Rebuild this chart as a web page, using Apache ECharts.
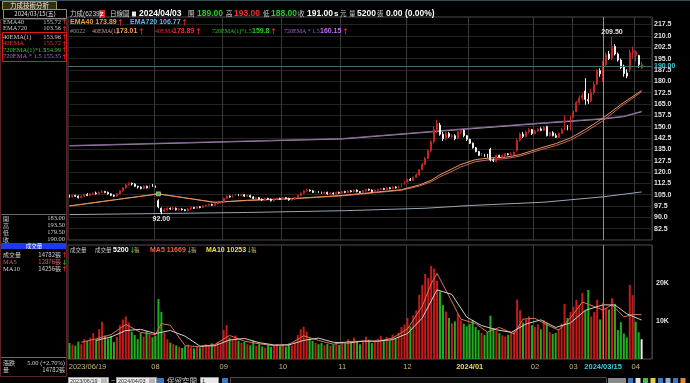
<!DOCTYPE html>
<html><head><meta charset="utf-8">
<script src="https://cdn.jsdelivr.net/npm/echarts/dist/echarts.min.js"></script>
<style>html,body{margin:0;padding:0;background:#000;overflow:hidden}#c{width:690px;height:383px}</style>
</head><body><div id="c"></div>
<script>
// ---------- DATA ----------
const holidays = ['2023-06-22','2023-06-23','2023-09-29','2023-10-09','2023-10-10','2024-01-01',
  '2024-02-06','2024-02-07','2024-02-08','2024-02-09','2024-02-12','2024-02-13','2024-02-14','2024-02-28'];
// candles: [open, close, low, high]
const candles = [
[104,103.5,103,105],[103.5,104.5,103,105],[104.5,104,103.5,105],[104,103,102.5,104.5],[103,104,102.5,104.5],[104,105,103.5,105.5],[105,104.5,104,106],[104.5,105.5,104,106],
[105.5,106,105,106.5],[106,105.5,105,107],[105.5,106.5,105,107],[106.5,107,106,108],[107,106.5,106,107.5],[106.5,105.5,105,107],[105.5,104.5,104,106],[104.5,104,103.5,105],[104,105.5,103.5,106],[105.5,107.5,105,108],[107.5,109.5,107,110],[109.5,111.5,109,112],[111.5,112.5,111,113],[112.5,112,111,113],[112,110.5,110,112.5],[110.5,110,109,111],[110,109,108.5,110.5],[109,110.5,108.5,111],[110.5,109.5,109,111],[109.5,111,109,111.5],[111,110.5,110,112],
[110.5,110,109.5,111],[101,97,96,102],[96,93.5,92,96.5],[94,95,93.5,96],[95,96,94.5,96.5],[96,95.5,95,96.5],[95.5,96,95,97],[96,95,94.5,96.5],[95,95.5,94.5,96],[95.5,95,94.5,96],[95,94.5,94,95.5],[94.5,95.5,94,96],[95.5,96.5,95,97],[96.5,96,95.5,97],[96,97,95.5,97.5],[97,96.5,96,97.5],[96.5,97.5,96,98],[97.5,98,97,98.5],[98,98.5,97.5,99],[98.5,98,97.5,99],[98,99,97.5,99.5],[99,99.5,98.5,100],[99.5,100,99,100.5],
[100.5,102.5,100,103],[102.5,104,102,104.5],[104,103.5,103,104.5],[103.5,104.5,103,105],[104.5,105,104,105.5],[105,104.5,104,105.5],[104.5,105,104,105.5],[105,104,103.5,105.5],[104,104.5,103.5,105],[104.5,103.5,103,105],[103.5,102.5,102,104],[102.5,103,102,103.5],[103,102,101.5,103.5],[102,101.5,101,102.5],[101.5,102.5,101,103],[102.5,102,101.5,103],[102,101,100.5,102.5],[101,102,100.5,102.5],[102,102.5,101.5,103],[102.5,102,101.5,103],
[102,103,101.5,103.5],[103,102.5,102,103.5],[102.5,101.5,101,103],[101.5,102,101,102.5],[102,103,101.5,103.5],[103,104.5,102.5,105],[104.5,106,104,106.5],[106,107.5,105.5,108],[107.5,108,107,109],[108,107.5,107,108.5],[107.5,106.5,106,108],[106.5,107,106,107.5],[107,106.5,106,107.5],[106.5,106,105.5,107],[106,106.5,105.5,107],[106.5,105.5,105,107],[105.5,106,105,106.5],[106,105.5,105,106.5],[105.5,106.5,105,107],[106.5,106,105.5,107],
[106,107,105.5,107.5],[107,106.5,106,107.5],[106.5,107.5,106,108],[107.5,107,106.5,108],[107,108,106.5,108.5],[108,107,106.5,108.5],[107,106.5,106,107.5],[106.5,107.5,106,108],[107.5,108.5,107,109],[108.5,108,107.5,109],[108,107,106.5,108.5],[107,108,106.5,108.5],[108,108.5,107.5,109],[108.5,109,108,109.5],[109,108.5,108,109.5],[108.5,109.5,108,110],[109.5,109,108.5,110],[109,110,108.5,110.5],[110,109.5,109,110.5],[109.5,110.5,109,111],[110.5,112,110,112.5],[112,113.5,111.5,114],
[113.5,115,113,115.5],[115,114.5,114,116],[114.5,116.5,114,117],[116.5,118,116,119],[118,121.5,117.5,122],[121.5,125,121,126],[125,129,124.5,130],[129,134,128.5,135],[134,140,133,141],[140,148,139,150],[148,152,146,154.5],[151,145,144,152.5],[145,142,140.5,146.5],[142,145.5,141,146.5],[145.5,143.5,142.5,146.5],[143.5,144,142.5,145],[144,142,141,145],[142,146.5,141.5,147.5],[146.5,147.5,145,148],[147.5,144,143,148],[144,141.5,140.5,144.5],
[141.5,139,138.5,142],[139,136,135.5,139.5],[136,133.5,133,136.5],[133.5,131,130.5,134],[131,131.5,130.5,132.5],[131.5,130.5,130,132],[130.5,130,129.5,132],[135,128,127,136],[128,127.5,126.5,129],[127,131,126.5,131.5],[131,130,129.5,131.5],[130,131,129.5,131.5],[130,132,129.5,132.5],[132,131.5,131,132.5],[131.5,132,131,133],[131.5,133,131,133.5],[134,141,133.5,142],[141,145,140,146],[145,143.5,142.5,146.5],[143.5,146.5,143,147.5],[146.5,148,145.5,149],[148,145.5,144.5,148.5],
[145.5,147,145,148],[147,148.5,146.5,149],[148.5,147.5,147,149.5],[147.5,149.5,147,150.5],[150,144,143.5,150.5],[144,146,143.5,146.5],[146,144,143.5,147],[144,143,142.5,145.5],[143,145.5,142.5,146],[145.5,148,145,149],[148,150,147.5,157.5],[150,148,147.5,151],[148,156,147.5,157],
[156,159,155.5,160.5],[160,166,159.5,167],[166,169,164.5,170.5],[169,170.5,167.5,172],[173.5,168,164.5,182],[168,167,165,172],[167,172.5,166,175],[172.5,178,171,179.5],[178,187,177.5,188],[187,185,183,188.5],[183,190,179.5,193.5],[191,197.5,190,199],[198,195,194,200],[195,203,194,209.5],[203,198,197,204.5],[198,194,193,199],[194,189,188,195],[190,185,183,191],[185.5,183.5,182,188],[188,199,186,201],[199,200,195,203],
[197,199.5,193,200.5],[197,191,189,197.5],[189,191,188,193]
];
const volumes = [
4200,3800,3500,4600,3900,5200,4800,5600,
6800,5200,7900,9800,6200,5400,6100,4500,5800,8900,10400,11200,9600,7200,6300,5200,6800,5900,7400,6500,5700,
6100,15800,12400,6900,5200,4300,3900,3600,3200,2900,3400,3800,3100,2800,3300,3000,3600,3900,3400,4100,3800,4500,4200,
7600,8900,5600,5100,6200,4800,4300,4500,3900,3600,4800,3500,3900,3300,3000,3700,3200,3500,3900,3400,
3800,3300,4100,3600,4400,6300,7800,8500,7200,5500,4800,4300,3900,4200,3600,4000,3500,3800,4300,3700,
4600,4100,5200,4400,5600,4700,3900,4500,5900,5100,4200,4800,5300,6100,5000,5800,4900,6400,5600,6900,8400,9100,
10800,8600,11500,12800,16900,19500,22400,21300,24500,23800,20600,17800,14200,12500,10800,9400,9900,11800,10200,9300,8600,
9200,10300,8400,7600,6900,6300,7100,11400,8200,7400,6800,6200,5900,6400,6800,7300,15600,12800,9600,10400,11200,8900,
8400,9100,7800,10200,9400,7100,6600,6900,7800,9300,14500,10800,12400,
13800,15600,14200,17400,12800,18178,11200,12400,15600,10400,14782,13400,13000,16000,14500,7600,9700,6700,5685,19500,16800,
9800,7045,5200
];
// lines read at sampled trading-day indices: [dayIndex, value]
const ema40 = [[0,97.5],[30,105.5],[49,99.9],[60,101.3],[75,102.4],[92,104.5],[112,108.3],[118,111.4],[122,114.5],[125,118.2],[129,122],[132,124.9],[137,128.2],[142,129.3],[147,129.7],[152,131.5],[159,135.9],[164,138.7],[169,142.5],[174,148],[180,155.72],[186,164.6],[193,173.89]];
const ema40b = [[0,97.5],[30,105.5],[49,99.9],[60,101.1],[75,102.2],[92,104.2],[112,107.9],[118,110.7],[122,113.5],[125,116.8],[129,120.4],[132,123.3],[137,126.8],[142,128.2],[147,128.8],[152,130.5],[159,134.7],[164,137.4],[169,141],[174,146.4],[180,153.96],[186,163.3],[193,173.01]];
const ema720 = [[0,91.8],[60,93.2],[93,94.4],[120,96],[135,97.8],[160,100],[180,103.56],[193,106.77]];
const ema720x = [[0,137.5],[92,142.1],[135,148.9],[160,152.6],[180,155.35],[187,156.9],[193,160.15]];
const ema720xb = [[0,137.2],[92,141.8],[135,148.5],[160,152.2],[180,154.99],[187,156.6],[193,159.8]];
const volMa5 = [[4,4400],[9,5300],[14,6400],[19,9100],[24,7000],[29,6400],[31,9300],[34,8900],[39,3500],[44,3200],[49,3800],[54,6200],[59,4700],[64,4000],[69,3500],[74,3800],[79,6100],[84,4900],[89,3900],[94,4600],[99,4700],[104,4700],[109,5500],[114,7900],[119,13900],[122,19800],[124,22500],[128,16600],[132,10500],[137,9300],[141,7100],[145,8300],[150,6600],[153,10500],[157,10700],[161,9000],[165,7600],[169,10800],[173,15000],[177,13800],[180,12876],[183,14300],[187,11100],[190,11700],[193,11669]];
const volMa10 = [[9,4900],[14,5800],[19,7500],[24,7800],[29,6700],[34,7500],[39,6000],[44,3400],[49,3500],[54,5000],[59,5400],[64,4300],[69,3700],[74,3700],[79,4900],[84,5500],[89,4400],[94,4200],[99,4700],[104,4700],[109,5100],[114,6700],[119,10800],[124,18200],[129,17000],[134,11000],[139,8800],[144,7700],[149,7000],[154,9200],[159,10300],[164,8300],[169,9500],[174,12800],[180,14256],[184,14200],[188,11900],[193,10253]];
const priceTicks = {min:75, max:222.5, step:7.5};
const volTicks = {min:0, max:30000, step:10000};
const cursorIdx = 180, cursorClose = 190;
const exDivIdx = 30, exDivPrice = 105.5;
const hiddenMonth = '07';

// ---------- BUILD ----------
function buildDates(){
  const out=[]; let t=Date.UTC(2023,5,19); const end=Date.UTC(2024,3,3);
  while(t<=end){ const d=new Date(t); const wd=d.getUTCDay(); const s=d.toISOString().slice(0,10);
    if(wd!==0&&wd!==6&&holidays.indexOf(s)<0) out.push(s.replace(/-/g,'/')); t+=86400000; }
  return out;
}
const dates = buildDates();
const cats = dates.concat([' ','  ','   ']);
const N = dates.length;
function isMonthStart(i){ return i>0 && i<N && dates[i].slice(0,7)!==dates[i-1].slice(0,7) && dates[i].slice(5,7)!==hiddenMonth; }
const CJK = "'Noto Sans CJK TC','Noto Sans CJK SC',sans-serif";
const NUM = "'Liberation Sans',Arial,sans-serif";
const SER = "'Liberation Serif','DejaVu Serif',serif";

const volData = volumes.map((v,i)=>{
  const prev = i>0 ? candles[i-1][1] : candles[i][0];
  const c = candles[i][1];
  const col = c>prev ? '#c81a1a' : (c<prev ? '#1fb01f' : '#e8e8e8');
  return {value:v, itemStyle:{color:col}};
});

function line(name, pts, color, xi, yi, z){
  return {name, type:'line', xAxisIndex:xi, yAxisIndex:yi, data:pts, symbol:'none', silent:true, z:z||2,
    lineStyle:{color, width:1}, animation:false};
}

// ---------- GRAPHICS ----------
const G=[];
function T(x,y,text,fill,size,weight,align,family){
  G.push({type:'text', x, y, silent:true, z:100, style:{text, fill, font:(weight||'normal')+' '+(size||6)+'px '+(family||CJK), align:align||'left', verticalAlign:'middle'}});
}
function R(x,y,w,h,fill,stroke){ G.push({type:'rect', silent:true, z:90, shape:{x,y,width:w,height:h}, style:{fill:fill||'none', stroke:stroke||'none', lineWidth:1}}); }
function L(x1,y1,x2,y2,stroke){ G.push({type:'line', silent:true, z:90, shape:{x1,y1,x2,y2}, style:{stroke, lineWidth:1}}); }
const RED='#ff2a2a', GRN='#22d022';
// window top strip / tab
L(0,0.5,690,0.5,'#2f4f4f');
R(2.5,1.5,54,8,'#30301a','#a09a48');
T(29.5,5.6,'力成技術分析','#f4eec4',6.5,'normal','center');
R(3.5,9.5,63,9,'#000','#8a8a8a');
T(35,14,'2024/03/15(五)','#e6e6e6',6,'normal','center');
// header row
T(70,14,'力成','#d8d8d8',6.5); T(83,14,'(6239)','#d8d8d8',6.5,'normal','left',NUM);
R(99,10,6,8,'#d81e1e'); T(102,14,'Z','#ffffff',5.5,'bold','center',NUM);
T(110,14,'日線圖','#d8d8d8',6.5);
R(132,11.5,4,5,'#e8e8e8');
T(139,14,'2024/04/03','#ffffff',8.5,'bold','left',NUM);
T(188,14,'開','#d0d0d0',6.5); T(197,14,'189.00',GRN,8.5,'bold','left',NUM);
T(226,14,'高','#d0d0d0',6.5); T(234,14,'193.00',RED,8.5,'bold','left',NUM);
T(263,14,'低','#d0d0d0',6.5); T(271,14,'188.00',GRN,8.5,'bold','left',NUM);
T(298,14,'收','#d0d0d0',6.5); T(307,14,'191.00','#ffffff',8.5,'bold','left',NUM);
T(334,14,'s','#ffffff',8,'bold','left',NUM); T(340,14,'元','#d0d0d0',6.5);
T(349,14,'量','#d0d0d0',6.5); T(357,14,'5200','#ffffff',8.5,'bold','left',NUM);
T(377,14,'張','#d0d0d0',6.5); T(386,14,'0.00 (0.00%)','#ffffff',8.5,'bold','left',NUM);
// legend rows inside main plot
T(70,22,'EMA40 173.89','#f0a040',7,'bold','left',NUM); T(117,22,'↑',RED,7,'bold');
T(130,22,'EMA720 106.77','#5ab8f0',7,'bold','left',NUM); T(181,22,'↑',RED,7,'bold');
T(70,31,'#0022','#8a8a8a',5.5,'normal','left',NUM);
T(92,31,'40EMA(1)','#c89a9a',6,'normal','left',SER); T(116,31,'173.01','#f0a050',7,'bold','left',NUM); T(138,31,'↑',RED,7,'bold');
T(155,31,'40EMA','#f03030',6,'normal','left',SER); T(173,31,'173.89',RED,7,'bold','left',NUM); T(195,31,'↑',RED,7,'bold');
T(212,31,'720EMA(1)*1.5','#30c030',6,'normal','left',SER); T(252,31,'159.8',GRN,7,'bold','left',NUM); T(270,31,'↑',RED,7,'bold');
T(284,31,'720EMA * 1.5','#a060d0',6,'normal','left',SER); T(320,31,'160.15','#c070f0',7,'bold','left',NUM); T(342,31,'↑',RED,7,'bold');
// left panel
R(0.5,19.5,66,357,'none','#5a2626');
function leftRow(y,label,lc,val,vc,arrow,ac){
  T(3,y,label,lc,6.5,'normal','left',SER); T(61,y,val,vc,6.5,'normal','right',SER);
  if(arrow) T(64.5,y,arrow,ac,6,'bold','center');
}
leftRow(22,'EMA40','#c4c4c4','155.72','#c4c4c4','↑',RED);
leftRow(28.5,'EMA720','#c4c4c4','103.56','#c4c4c4','↑',RED);
R(2.5,32.5,64,29,'none','#e01818');
leftRow(37,'40EMA(1)','#d4c8c8','153.96','#c4c4c4','↑',RED);
leftRow(43.5,'40EMA','#e83030','155.72','#e83030','↑',RED);
leftRow(50,'720EMA(1)*1.5','#40c040','154.99','#40c040','↑',RED);
leftRow(56.5,'720EMA * 1.5','#b060e0','155.35','#b060e0','↑',RED);
L(1,214.5,66,214.5,'#6a6a6a');
[['開','183.00',218.5],['高','193.50',225.5],['低','179.50',232.5],['收','190.00',239.5]].forEach(r=>{
  T(3,r[2],r[0],'#d0d0d0',6); T(65,r[2],r[1],'#d0d0d0',6.5,'normal','right',SER);
});
R(1,243,65,6,'#1a3cf0');
T(34,246,'成交量','#ffffff',5.5,'normal','center');
T(3,255,'成交量','#d0d0d0',6); T(61,255,'14782張','#d0d0d0',6,'normal','right'); T(64.5,255,'↑',RED,6,'bold','center');
T(3,262,'MA5','#e06060',6.5,'normal','left',SER); T(61,262,'12876張','#e06060',6,'normal','right'); T(64.5,262,'↓',GRN,6,'bold','center');
T(3,269,'MA10','#d0d0d0',6.5,'normal','left',SER); T(61,269,'14256張','#d0d0d0',6,'normal','right'); T(64.5,269,'↑',RED,6,'bold','center');
L(1,357.5,66,357.5,'#6a6a6a');
T(3,363,'漲跌','#d0d0d0',6); T(65,363,'5.00 (+2.70%)','#d0d0d0',6.5,'normal','right',SER);
T(3,370,'量','#d0d0d0',6); T(65,370,'14782張','#d0d0d0',6,'normal','right');
// volume header
T(70,250,'成交量','#c8c8c8',5.5);
T(95,250,'成交量','#c8c8c8',5.5); T(113,250,'5200','#ffffff',7,'bold','left',NUM); T(129,250,'↓',GRN,6.5,'bold'); T(134,250,'張','#c8b070',5.5);
T(150,250,'MA5 11669','#f06040',7,'bold','left',NUM); T(186,250,'↓',GRN,6.5,'bold'); T(191,250,'張','#c8b070',5.5);
T(206,250,'MA10 10253','#e8e040',7,'bold','left',NUM); T(246,250,'↓',GRN,6.5,'bold'); T(251,250,'張','#c8b070',5.5);
// bottom bar
R(68.5,377.5,40,8,'#e8e8e8','#9a9a9a'); T(70,381,'2023/06/19','#303030',5.5,'normal','left',NUM); R(101,378.5,6,5,'#b8b8b8');
T(111,381,'~','#d0d0d0',7,'normal','left',NUM);
R(116.5,377.5,40,8,'#e8e8e8','#9a9a9a'); T(118,381,'2024/04/03','#303030',5.5,'normal','left',NUM); R(149,378.5,6,5,'#b8b8b8');
R(157,378,7,6,'#3a78c0');
T(167,381,'保留空間','#d0d0d0',7.5);
R(200.5,377.5,18,8,'#e8e8e8','#9a9a9a'); T(202,381,'1','#303030',6,'normal','left',NUM);
R(222,378,6,6,'#3a78c0');
R(230.5,377.5,376,8,'#0c0c0c','#4a4a4a');
R(608,378,18,6,'#8a8a8a');
['#3a78c0','#e8e8e8','#48c048','#e0d040','#3a78c0','#8ab0e0','#3a78c0','#e08a30'].forEach((c,i)=>R(628+i*7.5,378,5,5,c));

// ---------- OPTION ----------
const chart = echarts.init(document.getElementById('c'));
const monthSplit = (i)=> isMonthStart(i);
const option = {
  backgroundColor:'#000', animation:false,
  grid:[
    {left:68, top:17, width:584, height:223, show:true, borderColor:'#5a4a58', borderWidth:1},
    {left:68, top:245, width:584, height:114, show:true, borderColor:'#5a4a58', borderWidth:1}
  ],
  xAxis:[
    {type:'category', gridIndex:0, data:cats, axisLine:{show:false}, axisTick:{show:false}, axisLabel:{show:false},
     splitLine:{show:true, interval:monthSplit, lineStyle:{color:'#3a3a3a', width:1}}},
    {type:'category', gridIndex:1, data:cats, axisLine:{show:false}, axisTick:{show:false},
     splitLine:{show:true, interval:monthSplit, lineStyle:{color:'#3a3a3a', width:1}},
     axisLabel:{margin:4, hideOverlap:false,
       interval:(i)=> i===0 || isMonthStart(i) || i===cursorIdx,
       formatter:(v,i)=>{
         if(i===0) return '{f|'+v+'}';
         if(i===cursorIdx) return '{c|'+v+'}';
         if(v.slice(5,7)==='01') return '{y|'+v.slice(0,7)+'}';
         return '{a|'+v.slice(5,7)+'}';
       },
       rich:{a:{color:'#c8b478',fontSize:7.5,fontFamily:NUM},
             f:{color:'#c8b478',fontSize:7.5,fontFamily:NUM,padding:[0,0,0,36]},
             y:{color:'#f0dc50',fontSize:7.5,fontWeight:'bold',fontFamily:NUM},
             c:{color:'#38d0e0',fontSize:7.5,fontWeight:'bold',fontFamily:NUM}}}}
  ],
  yAxis:[
    {type:'value', gridIndex:0, position:'right', min:priceTicks.min, max:priceTicks.max, interval:priceTicks.step,
     axisLine:{show:false}, axisTick:{show:false},
     axisLabel:{color:'#e2e2e2', fontSize:7, fontWeight:'bold', fontFamily:NUM, margin:2, showMinLabel:false, showMaxLabel:false, formatter:(v)=>v.toFixed(1)},
     splitLine:{show:true, lineStyle:{color:'#242424'}}},
    {type:'value', gridIndex:1, position:'right', min:volTicks.min, max:volTicks.max, interval:volTicks.step,
     axisLine:{show:false}, axisTick:{show:false},
     axisLabel:{color:'#e2e2e2', fontSize:7, fontWeight:'bold', fontFamily:NUM, margin:4, showMinLabel:false, showMaxLabel:false,
       formatter:(v)=> v>0 ? (v/1000)+'K' : ''},
     splitLine:{show:false}}
  ],
  series:[
    line('720EMA(1)*1.5', ema720xb, '#a89aa8', 0, 0),
    line('720EMA*1.5', ema720x, '#86609a', 0, 0),
    line('EMA720', ema720, '#98a6b8', 0, 0),
    line('40EMA(1)', ema40b, '#c86460', 0, 0),
    line('40EMA', ema40, '#e8985a', 0, 0),
    {name:'K', type:'candlestick', xAxisIndex:0, yAxisIndex:0, data:candles, barWidth:1.4, z:3,
     itemStyle:{color:'#a81420', color0:'#f0f0f0', borderColor:'#c42626', borderColor0:'#f0f0f0', borderWidth:1},
     markPoint:{silent:true, animation:false, symbol:'circle', symbolSize:0,
       label:{show:true, color:'#e0e0e0', fontSize:7, fontWeight:'bold', fontFamily:NUM, formatter:(p)=>Number(p.value).toFixed(2)},
       data:[
         {type:'max', valueDim:'highest', label:{position:'top', distance:1}},
         {type:'min', valueDim:'lowest', label:{position:'bottom', distance:1}},
         {coord:[exDivIdx, exDivPrice], symbol:'rect', symbolSize:4, itemStyle:{color:'#2ec02e', borderColor:'#ffffff', borderWidth:0.5}, label:{show:false}}
       ]},
     markLine:{silent:true, animation:false, symbol:'none',
       data:[
         {xAxis:cursorIdx, lineStyle:{color:'#7898aa', width:1, type:'solid'}, label:{show:false}},
         {yAxis:cursorClose, lineStyle:{color:'#446c6e', width:1, type:'solid'},
          label:{show:true, position:'end', distance:2, formatter:'190.00', color:'#3ccad2', fontSize:7, fontWeight:'bold', fontFamily:NUM}}
       ]}},
    {name:'VOL', type:'bar', xAxisIndex:1, yAxisIndex:1, data:volData, barWidth:2, z:2,
     markLine:{silent:true, animation:false, symbol:'none',
       data:[{xAxis:cursorIdx, lineStyle:{color:'#7898aa', width:1, type:'solid'}, label:{show:false}}]}},
    line('MA5', volMa5, '#e07050', 1, 1, 4),
    line('MA10', volMa10, '#cfcfcf', 1, 1, 4)
  ],
  graphic:{elements:G}
};
chart.setOption(option);
</script></body></html>
